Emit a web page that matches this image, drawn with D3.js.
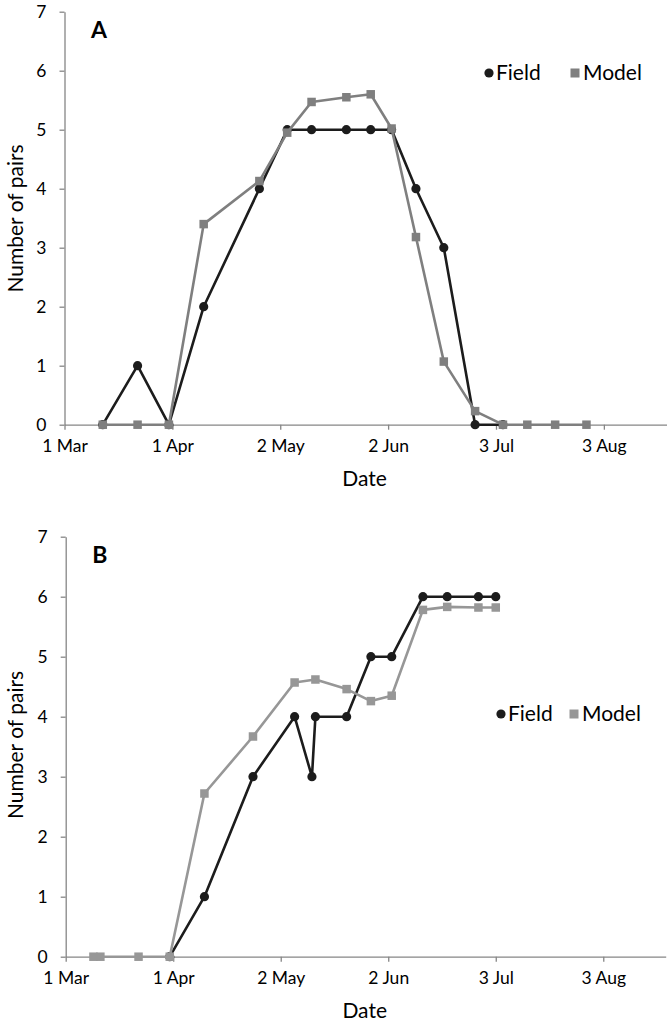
<!DOCTYPE html>
<html>
<head>
<meta charset="utf-8">
<script src="https://cdn.jsdelivr.net/npm/d3@7"></script>
<style>
  body { margin: 0; background: #fff; }
  svg { display: block; }
  text { font-family: Lato, "Open Sans", sans-serif; fill: #000; }
</style>
</head>
<body>
<svg id="chart" width="672" height="1023"></svg>
<script>
// ---------- DATA ----------
const tickDates = ["2010-03-01", "2010-04-01", "2010-05-02", "2010-06-02", "2010-07-03", "2010-08-03"];
const tickLabels = ["1 Mar", "1 Apr", "2 May", "2 Jun", "3 Jul", "3 Aug"];
const yTicks = [0, 1, 2, 3, 4, 5, 6, 7];

// Panel A
const fieldDatesA = ["2010-03-12", "2010-03-22", "2010-03-31", "2010-04-10", "2010-04-26", "2010-05-04", "2010-05-11", "2010-05-21", "2010-05-28", "2010-06-03", "2010-06-10", "2010-06-18", "2010-06-27", "2010-07-05"];
const fieldValuesA = [0, 1, 0, 2, 4, 5, 5, 5, 5, 5, 4, 3, 0, 0];
const modelDatesA = ["2010-03-12", "2010-03-22", "2010-03-31", "2010-04-10", "2010-04-26", "2010-05-04", "2010-05-11", "2010-05-21", "2010-05-28", "2010-06-03", "2010-06-10", "2010-06-18", "2010-06-27", "2010-07-05", "2010-07-12", "2010-07-20", "2010-07-29"];
const modelValuesA = [0, 0, 0, 3.4, 4.13, 4.95, 5.47, 5.55, 5.6, 5.02, 3.18, 1.07, 0.23, 0, 0, 0, 0];

// Panel B
const fieldDatesB = ["2010-03-31", "2010-04-10", "2010-04-24", "2010-05-06", "2010-05-11", "2010-05-12", "2010-05-21", "2010-05-28", "2010-06-03", "2010-06-12", "2010-06-19", "2010-06-28", "2010-07-03"];
const fieldValuesB = [0, 1, 3, 4, 3, 4, 4, 5, 5, 6, 6, 6, 6];
const modelDatesB = ["2010-03-09", "2010-03-11", "2010-03-22", "2010-03-31", "2010-04-10", "2010-04-24", "2010-05-06", "2010-05-12", "2010-05-21", "2010-05-28", "2010-06-03", "2010-06-12", "2010-06-19", "2010-06-28", "2010-07-03"];
const modelValuesB = [0, 0, 0, 0, 2.72, 3.67, 4.57, 4.62, 4.46, 4.26, 4.35, 5.78, 5.83, 5.82, 5.82];

const seriesNames = ["Field", "Model"];
const panelLabels = ["A", "B"];

// ---------- DRAW ----------
const parse = d3.utcParse("%Y-%m-%d");
const svg = d3.select("#chart");

function drawPanel(opt) {
  const g = svg.append("g");
  const x = d3.scaleUtc()
    .domain([parse("2010-03-01"), parse(opt.endDate)])
    .range([opt.left, opt.right]);
  const y = d3.scaleLinear().domain([0, 7]).range([opt.bottom, opt.top]);

  const axisColor = "#868686";

  // x axis
  const xAxis = d3.axisBottom(x)
    .tickValues(tickDates.map(parse))
    .tickFormat((d, i) => tickLabels[i])
    .tickSize(5).tickSizeOuter(0).tickPadding(10);
  const gx = g.append("g").attr("transform", `translate(0,${opt.bottom})`).call(xAxis);
  gx.select(".domain").attr("stroke", axisColor).attr("stroke-width", 1.3);
  gx.selectAll(".tick line").attr("stroke", axisColor).attr("stroke-width", 1.3);
  gx.selectAll(".tick text").attr("font-size", 17.5).attr("font-family", "Lato, sans-serif").attr("fill", "#000");

  // y axis
  const yAxis = d3.axisLeft(y).tickValues(yTicks).tickFormat(d3.format("d"))
    .tickSize(5).tickSizeOuter(0).tickPadding(13);
  const gy = g.append("g").attr("transform", `translate(${opt.left},0)`).call(yAxis);
  gy.select(".domain").attr("stroke", axisColor).attr("stroke-width", 1.3);
  gy.selectAll(".tick line").attr("stroke", axisColor).attr("stroke-width", 1.3);
  gy.selectAll(".tick text").attr("font-size", 17.5).attr("font-family", "Lato, sans-serif").attr("fill", "#000");

  // titles
  g.append("text").attr("x", (opt.left + opt.right) / 2 - 1).attr("y", opt.bottom + 61)
    .attr("text-anchor", "middle").attr("font-size", 21).text("Date");
  g.append("text")
    .attr("transform", `translate(23,${opt.titleY}) rotate(-90)`)
    .attr("text-anchor", "middle").attr("font-size", 21).text("Number of pairs");

  // panel label
  g.append("text").attr("x", opt.left + 26.5).attr("y", opt.top + 26.5)
    .attr("font-size", 23).attr("font-weight", "bold").text(opt.label);

  const line = d3.line().x(d => x(d.date)).y(d => y(d.value));
  const field = opt.fieldDates.map((d, i) => ({ date: parse(d), value: opt.fieldValues[i] }));
  const model = opt.modelDates.map((d, i) => ({ date: parse(d), value: opt.modelValues[i] }));

  // field
  g.append("path").datum(field).attr("d", line).attr("fill", "none")
    .attr("stroke", opt.fieldColor).attr("stroke-width", 2.6).attr("stroke-linejoin", "round");
  g.selectAll(".fdot").data(field).enter().append("circle")
    .attr("cx", d => x(d.date)).attr("cy", d => y(d.value)).attr("r", 4.6).attr("fill", opt.fieldColor);

  // model
  g.append("path").datum(model).attr("d", line).attr("fill", "none")
    .attr("stroke", opt.modelColor).attr("stroke-width", 2.6).attr("stroke-linejoin", "round");
  const s = 8.5;
  g.selectAll(".mdot").data(model).enter().append("rect")
    .attr("x", d => x(d.date) - s / 2).attr("y", d => y(d.value) - s / 2)
    .attr("width", s).attr("height", s).attr("fill", opt.modelColor);

  // legend
  const lg = g.append("g");
  lg.append("circle").attr("cx", opt.legX).attr("cy", opt.legY - 7).attr("r", 4.6).attr("fill", opt.fieldColor);
  lg.append("text").attr("x", opt.legX + 7).attr("y", opt.legY).attr("font-size", 21).text(seriesNames[0]);
  lg.append("rect").attr("x", opt.legX2 - 4.5).attr("y", opt.legY - 11.5).attr("width", 9).attr("height", 9).attr("fill", opt.modelColor);
  lg.append("text").attr("x", opt.legX2 + 8).attr("y", opt.legY).attr("font-size", 21).text(seriesNames[1]);
}

drawPanel({
  label: panelLabels[0], left: 64.5, right: 666.5, top: 11.7, bottom: 424.7, endDate: "2010-08-21", titleY: 218.5,
  fieldDates: fieldDatesA, fieldValues: fieldValuesA, modelDates: modelDatesA, modelValues: modelValuesA,
  fieldColor: "#1c1c1c", modelColor: "#7f7f7f", legX: 489, legX2: 575, legY: 80
});
drawPanel({
  label: panelLabels[1], left: 65.7, right: 665.7, top: 536.7, bottom: 956.7, endDate: "2010-08-21", titleY: 745,
  fieldDates: fieldDatesB, fieldValues: fieldValuesB, modelDates: modelDatesB, modelValues: modelValuesB,
  fieldColor: "#1c1c1c", modelColor: "#979797", legX: 501, legX2: 574, legY: 721
});
</script>
</body>
</html>
